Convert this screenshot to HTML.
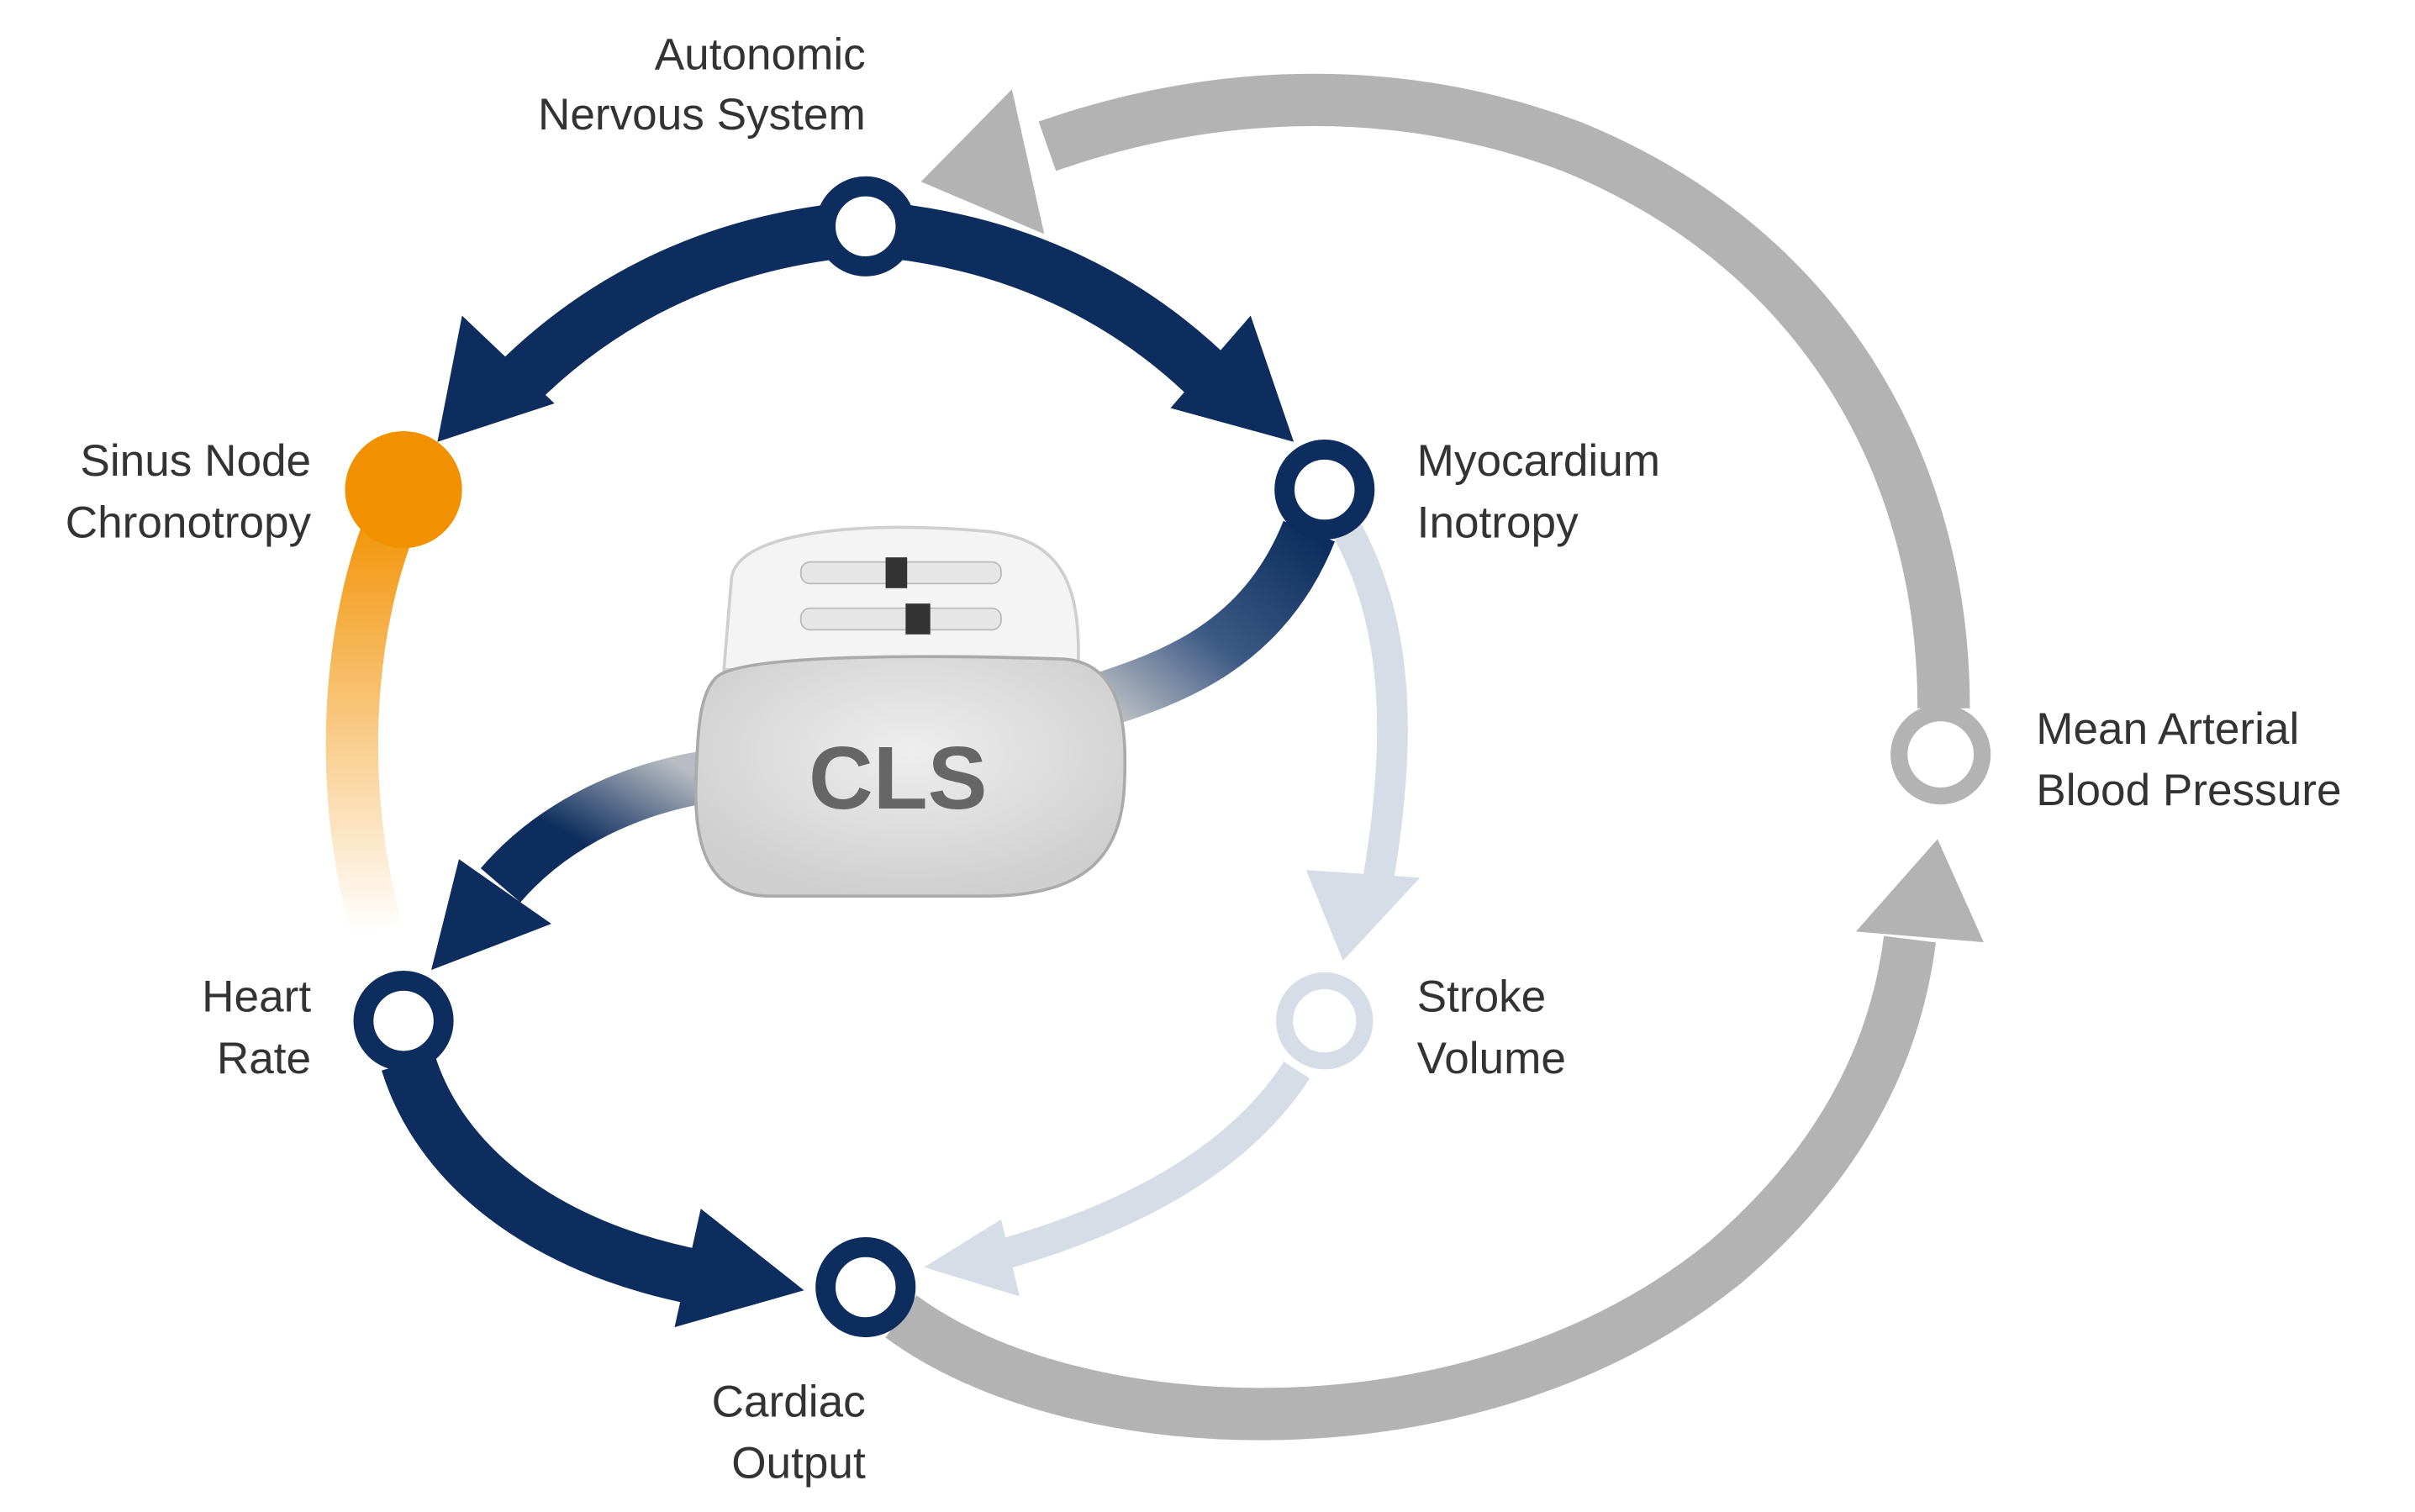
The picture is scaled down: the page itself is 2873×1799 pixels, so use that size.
<!DOCTYPE html>
<html><head><style>html,body{margin:0;padding:0;background:#fff}svg{display:block}</style></head>
<body>
<svg width="2873" height="1799" viewBox="0 0 1568 982" preserveAspectRatio="none" xmlns="http://www.w3.org/2000/svg" font-family="Liberation Sans, sans-serif">
<defs>
<linearGradient id="og" x1="0" y1="0" x2="0" y2="1"><stop offset="0" stop-color="#f29100"/><stop offset="1" stop-color="#f29100" stop-opacity="0"/></linearGradient>
<linearGradient id="mg" x1="1" y1="0" x2="0" y2="1"><stop offset="0" stop-color="#0c2d5e"/><stop offset="0.55" stop-color="#3d5a85"/><stop offset="1" stop-color="#b8bcc2"/></linearGradient>
<linearGradient id="hg" x1="1" y1="0" x2="0" y2="1"><stop offset="0" stop-color="#b8bcc2"/><stop offset="0.6" stop-color="#0c2d5e"/><stop offset="1" stop-color="#0c2d5e"/></linearGradient>
<radialGradient id="dev" cx="0.5" cy="0.4" r="0.6"><stop offset="0" stop-color="#eeeeee"/><stop offset="1" stop-color="#cfcfcf"/></radialGradient>
</defs>
<!-- big gray loop -->
<path d="M585,855 C700,940 960,950 1120,820 C1190,760 1230,690 1240,610" fill="none" stroke="#b3b3b3" stroke-width="34"/>
<polygon points="1258,545 1205,605 1288,612" fill="#b3b3b3"/>
<path d="M1262,460 C1262,300 1180,160 1020,95 C900,50 780,60 680,95" fill="none" stroke="#b3b3b3" stroke-width="34"/>
<polygon points="598,118 657,58 678,152" fill="#b3b3b3"/>
<!-- light blue -->
<path d="M875,345 C905,400 912,470 895,570" fill="none" stroke="#d6dde6" stroke-width="20"/>
<polygon points="872,624 848,565 922,570" fill="#d6dde6"/>
<path d="M842,695 C800,760 720,795 650,815" fill="none" stroke="#d6dde6" stroke-width="20"/>
<polygon points="600,823 650,792 662,842" fill="#d6dde6"/>
<!-- orange -->
<path d="M258,330 C230,390 215,500 245,605" fill="none" stroke="url(#og)" stroke-width="34"/>
<!-- dark arrows -->
<path d="M545,150 C460,160 390,195 335,250" fill="none" stroke="#0c2d5e" stroke-width="36"/>
<polygon points="284,287 300,205 360,262" fill="#0c2d5e"/>
<path d="M580,150 C665,160 735,195 790,250" fill="none" stroke="#0c2d5e" stroke-width="36"/>
<polygon points="840,287 812,205 760,265" fill="#0c2d5e"/>
<path d="M265,690 C285,755 350,810 455,830" fill="none" stroke="#0c2d5e" stroke-width="36"/>
<polygon points="522,838 455,785 438,862" fill="#0c2d5e"/>
<path d="M850,345 C820,420 760,440 715,455" fill="none" stroke="url(#mg)" stroke-width="36"/>
<path d="M455,505 C400,515 355,540 325,575" fill="none" stroke="url(#hg)" stroke-width="34"/>
<polygon points="280,630 298,558 358,600" fill="#0c2d5e"/>
<!-- device -->
<path d="M475,375 C480,345 560,338 640,345 C690,350 702,380 700,435 L470,435 Z" fill="#f4f4f4" stroke="#cfcfcf" stroke-width="2"/>
<rect x="520" y="365" width="130" height="14" rx="6" fill="#e6e6e6" stroke="#bbb"/>
<rect x="520" y="395" width="130" height="14" rx="6" fill="#e6e6e6" stroke="#bbb"/>
<rect x="575" y="362" width="14" height="20" fill="#333"/>
<rect x="588" y="392" width="16" height="20" fill="#333"/>
<path d="M465,440 C480,425 600,425 690,428 C728,430 732,470 730,510 C728,560 700,582 640,582 L500,582 C460,582 450,550 452,505 C453,470 455,450 465,440 Z" fill="url(#dev)" stroke="#aaa" stroke-width="2"/>
<text x="583" y="525" font-size="58" fill="#666" text-anchor="middle" font-weight="bold">CLS</text>
<!-- nodes -->
<circle cx="562" cy="147" r="26" fill="#fff" stroke="#0c2d5e" stroke-width="13"/>
<circle cx="262" cy="318" r="38" fill="#f29100"/>
<circle cx="860" cy="318" r="26" fill="#fff" stroke="#0c2d5e" stroke-width="13"/>
<circle cx="262" cy="663" r="26" fill="#fff" stroke="#0c2d5e" stroke-width="13"/>
<circle cx="860" cy="663" r="26" fill="#fff" stroke="#d6dde6" stroke-width="11"/>
<circle cx="562" cy="836" r="26" fill="#fff" stroke="#0c2d5e" stroke-width="13"/>
<circle cx="1260" cy="490" r="27" fill="#fff" stroke="#b3b3b3" stroke-width="11"/>
<!-- labels -->
<g font-size="29" fill="#333">
<text x="562" y="45" text-anchor="end">Autonomic</text>
<text x="562" y="84" text-anchor="end">Nervous System</text>
<text x="202" y="309" text-anchor="end">Sinus Node</text>
<text x="202" y="349" text-anchor="end">Chronotropy</text>
<text x="920" y="309">Myocardium</text>
<text x="920" y="349">Inotropy</text>
<text x="1322" y="483">Mean Arterial</text>
<text x="1322" y="523">Blood Pressure</text>
<text x="202" y="657" text-anchor="end">Heart</text>
<text x="202" y="697" text-anchor="end">Rate</text>
<text x="920" y="657">Stroke</text>
<text x="920" y="697">Volume</text>
<text x="562" y="920" text-anchor="end">Cardiac</text>
<text x="562" y="960" text-anchor="end">Output</text>
</g>
</svg>
</body></html>
